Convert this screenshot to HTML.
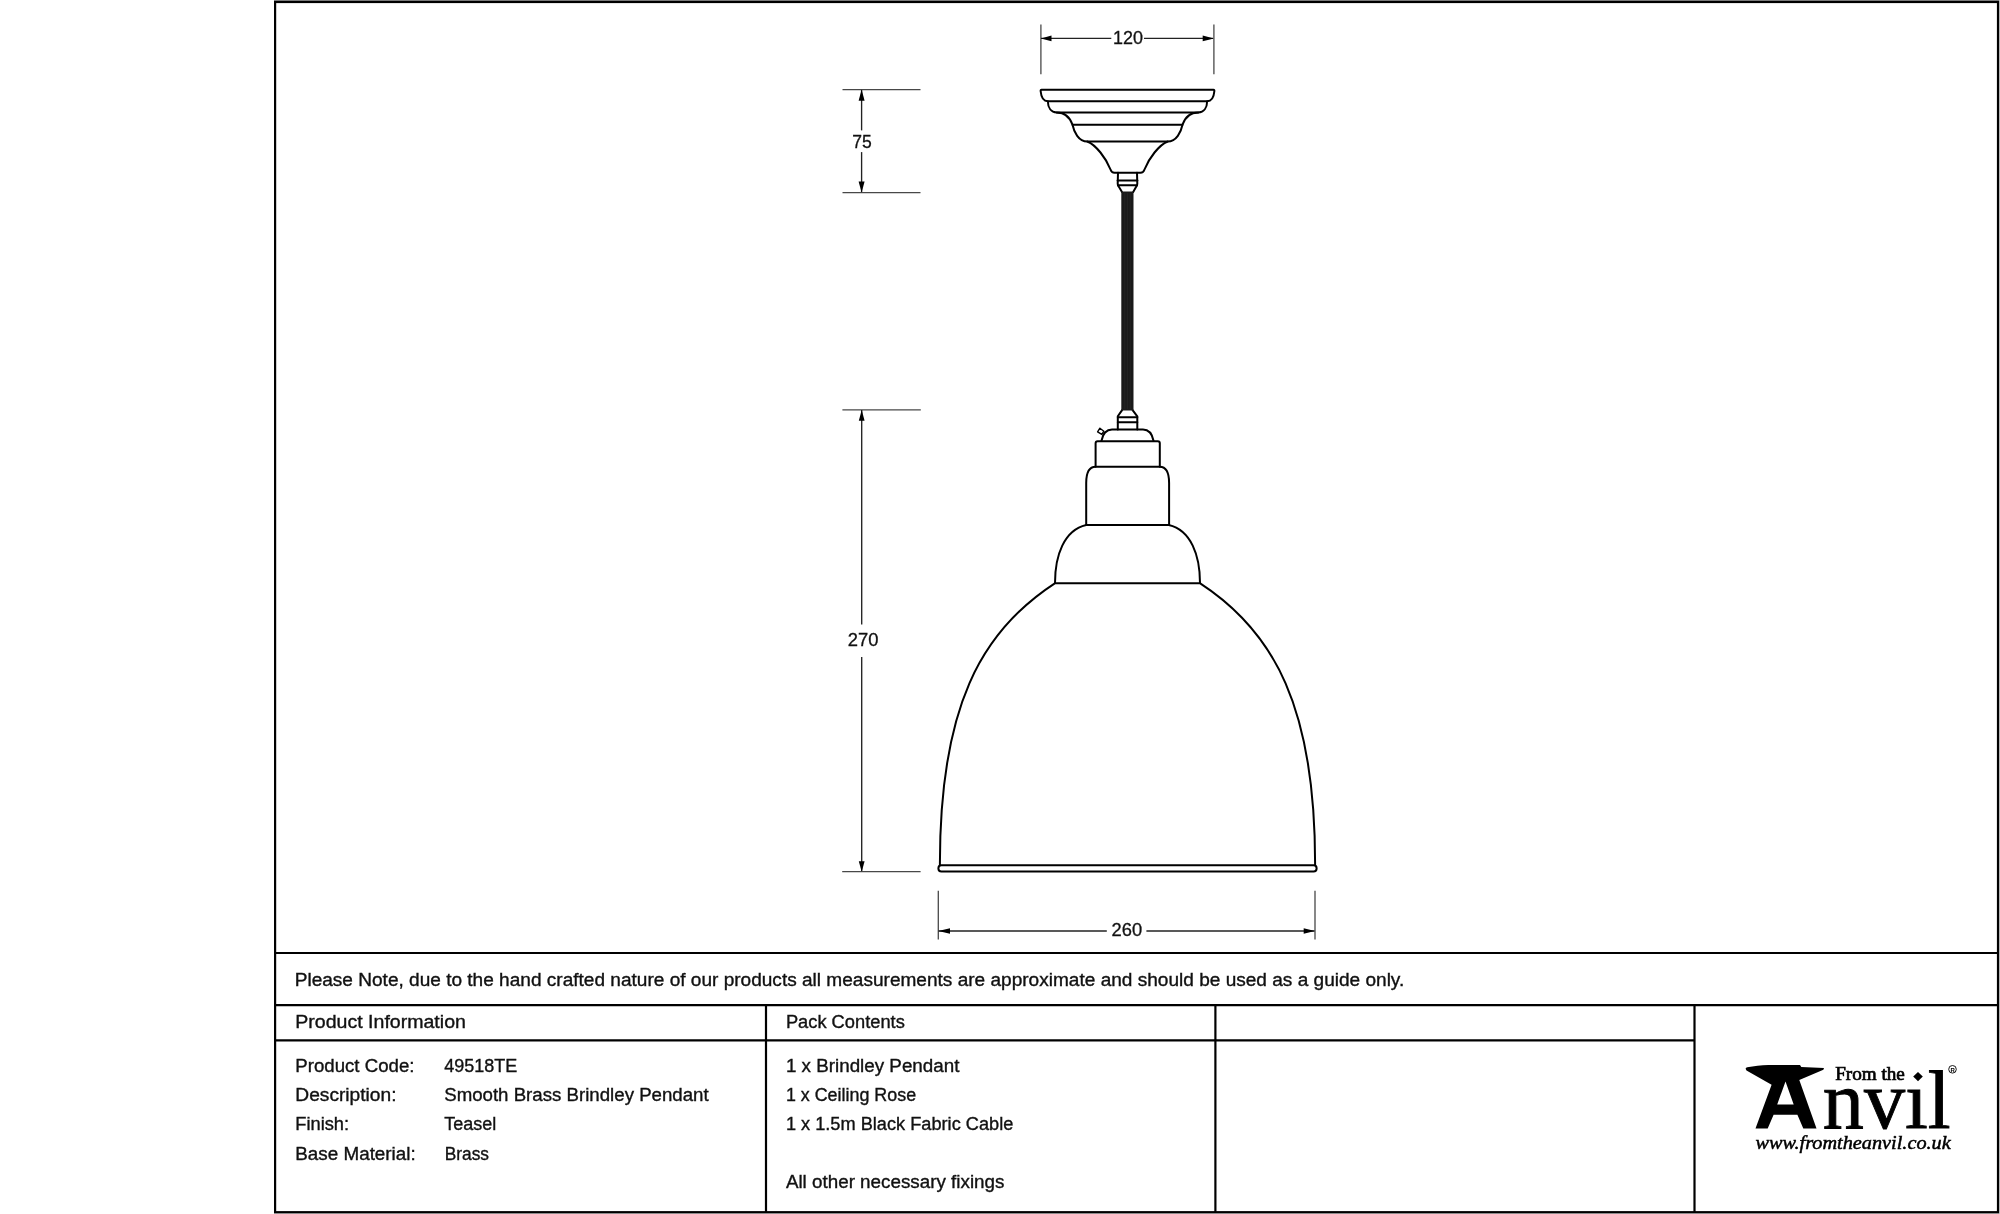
<!DOCTYPE html>
<html><head><meta charset="utf-8">
<style>
html,body{margin:0;padding:0;background:#fff;width:2000px;height:1214px;overflow:hidden}
svg{position:absolute;left:0;top:0;will-change:transform}
text{font-family:"Liberation Sans",sans-serif;fill:#111}
.t{font-size:17.6px;stroke:#111;stroke-width:0.35px}
.d{font-size:17.8px;stroke:#111;stroke-width:0.3px}
</style></head><body>
<svg width="2000" height="1214" viewBox="0 0 2000 1214">
<rect x="274" y="0" width="1726" height="1" fill="#8a8a8a"/>
<rect x="1999" y="0" width="1" height="1214" fill="#c8c8c8"/>
<rect x="274" y="1213" width="1726" height="1" fill="#c8c8c8"/>
<!-- frame -->
<g stroke="#000" stroke-width="2.2" fill="none">
<rect x="275.1" y="2" width="1722.9" height="1210.2"/>
<line x1="275" y1="953" x2="1998" y2="953"/>
<line x1="275" y1="1005.2" x2="1998" y2="1005.2"/>
<line x1="275" y1="1040.4" x2="1694.5" y2="1040.4"/>
<line x1="766" y1="1005" x2="766" y2="1212"/>
<line x1="1215.4" y1="1005" x2="1215.4" y2="1212"/>
<line x1="1694.5" y1="1005" x2="1694.5" y2="1212"/>
</g>
<!-- dimension lines -->
<g stroke="#484848" stroke-width="1.3" fill="none">
<line x1="1040.9" y1="24.4" x2="1040.9" y2="74.2"/>
<line x1="1213.9" y1="24.4" x2="1213.9" y2="74.2"/>
<line x1="842.5" y1="89.6" x2="920.5" y2="89.6"/>
<line x1="842.5" y1="192.6" x2="920.5" y2="192.6"/>
<line x1="842.4" y1="409.9" x2="920.8" y2="409.9"/>
<line x1="842.2" y1="871.7" x2="920.6" y2="871.7"/>
<line x1="938.3" y1="890.7" x2="938.3" y2="939.6"/>
<line x1="1315" y1="890.7" x2="1315" y2="939.6"/>
</g>
<g stroke="#222" stroke-width="1.35" fill="none">
<line x1="1041" y1="38.4" x2="1111.3" y2="38.4"/>
<line x1="1144" y1="38.4" x2="1213" y2="38.4"/>
<line x1="861.6" y1="90" x2="861.6" y2="130.4"/>
<line x1="861.6" y1="152.1" x2="861.6" y2="192"/>
<line x1="861.7" y1="410" x2="861.7" y2="624.4"/>
<line x1="861.7" y1="657" x2="861.7" y2="871"/>
<line x1="938.5" y1="931" x2="1106.8" y2="931"/>
<line x1="1146.4" y1="931" x2="1314.5" y2="931"/>
</g>
<g fill="#000">
<path d="M1040.9 38.4 L1051.5 35.6 L1051.5 41.2 Z"/>
<path d="M1213.9 38.4 L1202.7 35.6 L1202.7 41.2 Z"/>
<path d="M861.6 89.6 L858.6 100.8 L864.6 100.8 Z"/>
<path d="M861.6 192.6 L858.6 181.4 L864.6 181.4 Z"/>
<path d="M861.7 409.9 L858.8 420.8 L864.6 420.8 Z"/>
<path d="M861.7 871.7 L858.8 861.3 L864.6 861.3 Z"/>
<path d="M938.3 931 L950 928.2 L950 933.8 Z"/>
<path d="M1315 931 L1303.7 928.2 L1303.7 933.8 Z"/>
</g>
<text class="d" x="1112.9" y="43.9" textLength="30" lengthAdjust="spacingAndGlyphs">120</text>
<text class="d" x="852.3" y="147.7" textLength="19.5" lengthAdjust="spacingAndGlyphs">75</text>
<text class="d" x="847.8" y="645.8" textLength="30.7" lengthAdjust="spacingAndGlyphs">270</text>
<text class="d" x="1111.6" y="935.8" textLength="30.6" lengthAdjust="spacingAndGlyphs">260</text>
<!-- LAMP -->

<g id="lamp" stroke="#000" stroke-width="2" fill="none" stroke-linejoin="round" stroke-linecap="round">
<!-- ceiling rose -->
<path d="M1041.5 89.7 L1213.5 89.7 Q1214.6 89.7 1214.3 91.5 C1213.7 98 1211.5 101.2 1207.2 101.2 C1207 107.5 1204 112.4 1198.3 112.4 C1192 112.4 1185.5 116 1182.5 124.7 C1181 132 1176.5 141.5 1167.7 141.5 C1159 145 1149 158 1144.5 169.5 Q1143.4 172.8 1140.5 172.8 L1114.5 172.8 Q1111.6 172.8 1110.5 169.5 C1106 158 1096 145 1087.3 141.5 C1078.5 141.5 1074 132 1072.5 124.7 C1069.5 116 1063 112.4 1056.7 112.4 C1051 112.4 1048 107.5 1047.8 101.2 C1043.5 101.2 1041.3 98 1040.7 91.5 Q1040.4 89.7 1041.5 89.7 Z"/>
<line x1="1047.8" y1="101.2" x2="1207.2" y2="101.2"/>
<line x1="1056.7" y1="112.4" x2="1198.3" y2="112.4"/>
<line x1="1072.5" y1="124.7" x2="1182.5" y2="124.7"/>
<line x1="1087.3" y1="141.5" x2="1167.7" y2="141.5"/>
<!-- top connector -->
<path d="M1118 172.8 L1117.7 183.5 Q1117.7 185.6 1118.7 186.6 L1122 192 M1137 172.8 L1137.3 183.5 Q1137.3 185.6 1136.3 186.6 L1133.2 192"/>
<line x1="1117.6" y1="180.4" x2="1137.4" y2="180.4"/>
<line x1="1118.4" y1="185.3" x2="1136.6" y2="185.3"/>
<!-- lower connector -->
<path d="M1122.1 410.1 L1117.8 416.3 L1117.8 429.4 M1132.6 410.1 L1137.3 416.3 L1137.3 429.4"/>
<line x1="1117.8" y1="417.2" x2="1137.3" y2="417.2"/>
<line x1="1117.8" y1="422.2" x2="1137.3" y2="422.2"/>
<!-- dome cap -->
<path d="M1101.4 441 C1103 433 1106 429.6 1112 429.6 L1143 429.6 C1149 429.6 1152 433 1153.6 441"/>
<path stroke-width="1.4" d="M1097.6 431.8 L1099.9 428.2 L1103.9 431.2 L1101.8 434.4 Z" fill="#fff"/>
<path d="M1095.6 466.8 L1095.6 443.3 Q1095.6 441.3 1097.6 441.3 L1157.8 441.3 Q1159.8 441.3 1159.8 443.3 L1159.8 466.8"/>
<path d="M1086.2 525 L1086.2 483 C1086.2 472 1089 466.8 1095.6 466.8 L1159.7 466.8 C1166.3 466.8 1169.1 472 1169.1 483 L1169.1 525"/>
<path d="M1055 583 C1055 555.5 1064 530.2 1086.2 525 L1168.8 525 C1191 530.2 1200 555.5 1200 583"/>
<!-- shade -->
<path d="M939.9 865 C939.6 707.6 980.6 631.7 1054.8 583.3 L1200.2 583.3 C1274.4 631.7 1315.4 707.6 1315.1 865"/>
<rect x="938.4" y="865.3" width="378.2" height="6.2" rx="3" ry="3" fill="#fff"/>
</g>
<rect x="1121.3" y="191.5" width="12.2" height="219" fill="#1a1a1a"/>
<g stroke="#282828" stroke-width="0.7"><line x1="1124.8" y1="193" x2="1124.8" y2="409"/><line x1="1127.4" y1="193" x2="1127.4" y2="409"/><line x1="1130.2" y1="193" x2="1130.2" y2="409"/></g>

<!-- TABLE TEXT -->
<g class="t">
<text x="294.7" y="985.5" textLength="1109.6" lengthAdjust="spacingAndGlyphs">Please Note, due to the hand crafted nature of our products all measurements are approximate and should be used as a guide only.</text>
<text x="295.3" y="1027.5" textLength="170.6" lengthAdjust="spacingAndGlyphs">Product Information</text>
<text x="785.9" y="1027.5" textLength="118.9" lengthAdjust="spacingAndGlyphs">Pack Contents</text>
<text x="295.3" y="1072.2" textLength="119.2" lengthAdjust="spacingAndGlyphs">Product Code:</text>
<text x="295.3" y="1101" textLength="101.2" lengthAdjust="spacingAndGlyphs">Description:</text>
<text x="295.3" y="1129.8" textLength="53.8" lengthAdjust="spacingAndGlyphs">Finish:</text>
<text x="295.3" y="1159.8" textLength="120.4" lengthAdjust="spacingAndGlyphs">Base Material:</text>
<text x="444.2" y="1072.2" textLength="73.0" lengthAdjust="spacingAndGlyphs">49518TE</text>
<text x="444.2" y="1101" textLength="264.5" lengthAdjust="spacingAndGlyphs">Smooth Brass Brindley Pendant</text>
<text x="444.2" y="1129.8" textLength="52.0" lengthAdjust="spacingAndGlyphs">Teasel</text>
<text x="444.7" y="1159.8" textLength="44.3" lengthAdjust="spacingAndGlyphs">Brass</text>
<text x="785.9" y="1072.2" textLength="173.5" lengthAdjust="spacingAndGlyphs">1 x Brindley Pendant</text>
<text x="785.9" y="1101" textLength="130.2" lengthAdjust="spacingAndGlyphs">1 x Ceiling Rose</text>
<text x="785.9" y="1130" textLength="227.4" lengthAdjust="spacingAndGlyphs">1 x 1.5m Black Fabric Cable</text>
<text x="785.9" y="1188.2" textLength="218.5" lengthAdjust="spacingAndGlyphs">All other necessary fixings</text>
</g>
<!-- LOGO -->

<g id="logo">
<path fill="#000" fill-rule="evenodd" d="M1745.6 1068.8 Q1745.8 1067.4 1747.3 1067.2 C1754 1066 1761 1065.2 1768.3 1064.9 L1800 1064.9 L1801.3 1066.9 L1824 1067.9 L1823.4 1069.8 L1799.3 1080 L1816.5 1128.5 L1803.3 1128.5 L1797.4 1114.7 L1773.6 1114.7 L1767.7 1128.5 L1755.5 1128.5 L1771.6 1084.7 L1746.5 1070.5 Z M1785.5 1081.4 L1793.7 1104.4 L1777.2 1104.4 Z"/>
<text x="1835.2" y="1080.2" textLength="69.7" lengthAdjust="spacingAndGlyphs" style="font-family:'Liberation Serif',serif;font-size:18.6px;fill:#000;stroke:#000;stroke-width:0.7px">From the</text>
<path fill="#000" d="M1918 1071.9 L1922.8 1076.6 L1918 1081.3 L1913.2 1076.6 Z"/>
<text x="1822.8" y="1128.2" textLength="127.9" lengthAdjust="spacingAndGlyphs" style="font-family:'Liberation Serif',serif;font-size:83px;fill:#000;stroke:#000;stroke-width:0.9px">nvıl</text>
<circle cx="1952.5" cy="1069.3" r="3.8" fill="none" stroke="#000" stroke-width="0.9"/>
<text x="1950.6" y="1071.6" style="font-family:'Liberation Sans',sans-serif;font-size:6px;font-weight:bold;fill:#000">R</text>
<text x="1755.5" y="1148.7" textLength="195.2" lengthAdjust="spacingAndGlyphs" style="font-family:'Liberation Serif',serif;font-size:19.5px;font-style:italic;fill:#000;stroke:#000;stroke-width:0.5px">www.fromtheanvil.co.uk</text>
</g>

</svg>
</body></html>
